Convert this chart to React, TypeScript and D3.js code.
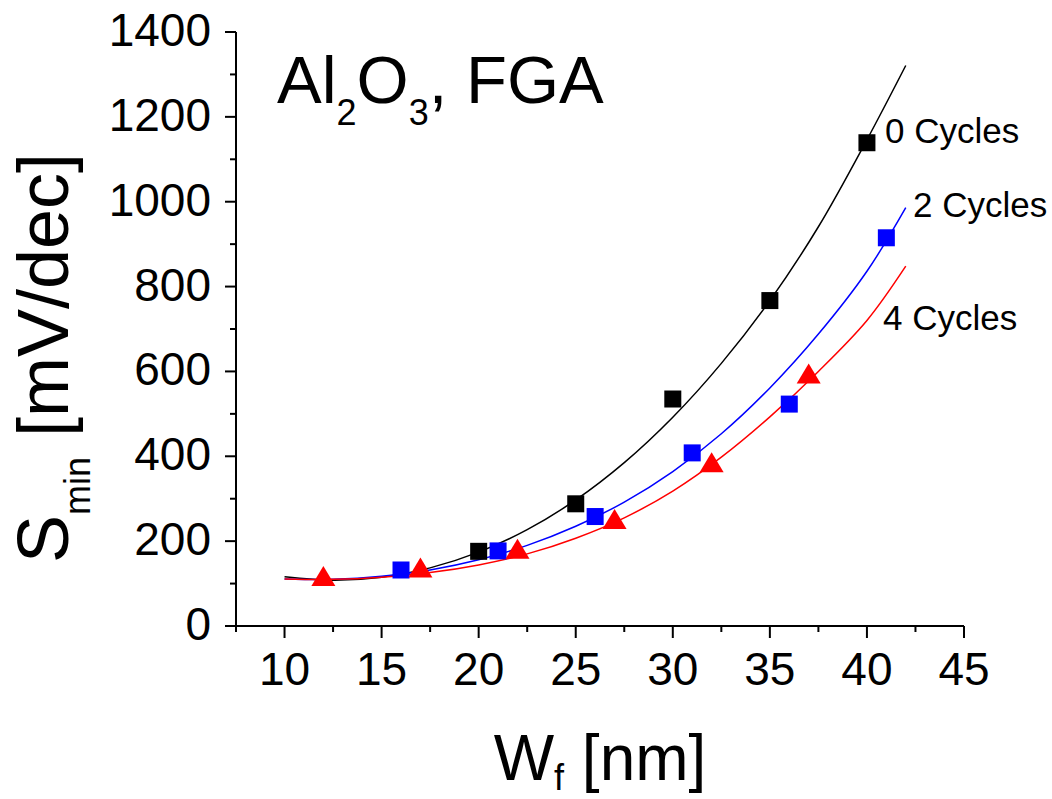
import React from "react";
import * as d3 from "d3";

// ---- data ----
const cycleLabels = ["0 Cycles", "2 Cycles", "4 Cycles"];
const seriesColors = ["#000000", "#0000ff", "#ff0000"];

const wf0 = [20, 25, 30, 35, 40];
const s0 = [176, 288, 535, 767, 1139];
const wf2 = [16, 21, 26, 31, 36, 41];
const s2 = [132, 177, 258, 408, 523, 915];
const wf4 = [12, 17, 22, 27, 32, 37];
const s4 = [118, 138, 182, 252, 386, 595];

// fitted curves
const fitX = [10, 12.5, 15, 17.5, 20, 22.5, 25, 27.5, 30, 32.5, 35, 37.5, 40, 42];
const fit0 = [116, 108, 115, 137, 174, 227, 297, 385, 492, 619, 767, 941, 1146, 1321];
const fit2 = [111, 110, 117, 132, 156, 190, 235, 292, 364, 453, 561, 688, 836, 986];
const fit4 = [111, 110, 115, 126, 144, 170, 207, 255, 318, 398, 493, 600, 720, 848];

const xTicks = [10, 15, 20, 25, 30, 35, 40, 45];
const xMinor = [7.5, 12.5, 17.5, 22.5, 27.5, 32.5, 37.5, 42.5];
const yTicks = [0, 200, 400, 600, 800, 1000, 1200, 1400];
const yMinor = [100, 300, 500, 700, 900, 1100, 1300];

const FONT = "'Liberation Sans', Arial, sans-serif";

export default function App() {
  const x = d3.scaleLinear().domain([7.5, 45]).range([236, 964]);
  const y = d3.scaleLinear().domain([0, 1400]).range([626, 32]);

  const line = d3
    .line<[number, number]>()
    .x((d) => x(d[0]))
    .y((d) => y(d[1]))
    .curve(d3.curveCatmullRom.alpha(0.5));

  const fits = [fit0, fit2, fit4];
  const sq = 17;
  const triW = 24;
  const triH = 20;

  const triPath = (cx: number, cy: number) =>
    `M${cx},${cy - triH / 2}L${cx + triW / 2},${cy + triH / 2}L${cx - triW / 2},${cy + triH / 2}Z`;

  const x0 = x.range()[0];
  const x1 = x.range()[1];
  const yb = y(0);
  const yt = y(1400);

  return (
    <svg
      width={1052}
      height={799}
      style={{ position: "absolute", left: 0, top: 0, background: "#fff" }}
      fontFamily={FONT}
    >
      <rect width={1052} height={799} fill="#fff" />
      {/* fit curves */}
      {fits.map((f, i) => (
        <path
          key={"fit" + i}
          d={line(fitX.map((v, j) => [v, f[j]] as [number, number])) || ""}
          fill="none"
          stroke={seriesColors[i]}
          strokeWidth={1.5}
        />
      ))}
      {/* markers */}
      {wf0.map((v, i) => (
        <rect key={"b" + i} x={x(v) - sq / 2} y={y(s0[i]) - sq / 2} width={sq} height={sq} fill={seriesColors[0]} />
      ))}
      {wf2.map((v, i) => (
        <rect key={"u" + i} x={x(v) - sq / 2} y={y(s2[i]) - sq / 2} width={sq} height={sq} fill={seriesColors[1]} />
      ))}
      {wf4.map((v, i) => (
        <path key={"r" + i} d={triPath(x(v), y(s4[i]))} fill={seriesColors[2]} />
      ))}

      {/* axes */}
      <line x1={x0} x2={x1} y1={yb} y2={yb} stroke="#000" strokeWidth={2} />
      <line x1={x0} x2={x0} y1={yb + 1} y2={yt} stroke="#000" strokeWidth={2} />
      {xTicks.map((t) => (
        <g key={"xt" + t}>
          <line x1={x(t)} x2={x(t)} y1={yb} y2={yb + 12} stroke="#000" strokeWidth={2} />
          <text x={x(t)} y={yb + 59} fontSize={46} textAnchor="middle">
            {t}
          </text>
        </g>
      ))}
      {xMinor.map((t) => (
        <line key={"xm" + t} x1={x(t)} x2={x(t)} y1={yb} y2={yb + 6} stroke="#000" strokeWidth={2} />
      ))}
      {yTicks.map((t) => (
        <g key={"yt" + t}>
          <line x1={x0} x2={x0 - 11} y1={y(t)} y2={y(t)} stroke="#000" strokeWidth={2} />
          <text x={211} y={y(t) + 14} fontSize={46} textAnchor="end">
            {t}
          </text>
        </g>
      ))}
      {yMinor.map((t) => (
        <line key={"ym" + t} x1={x0} x2={x0 - 6} y1={y(t)} y2={y(t)} stroke="#000" strokeWidth={2} />
      ))}

      {/* axis titles */}
      <text x={600} y={780} fontSize={64} textAnchor="middle">
        W<tspan fontSize={36} dy={10}>f</tspan>
        <tspan dy={-10}> [nm]</tspan>
      </text>
      <text transform="translate(68,358) rotate(-90)" fontSize={72} textAnchor="middle">
        S<tspan fontSize={36} dy={22}>min</tspan>
        <tspan dy={-22}> [mV/dec]</tspan>
      </text>

      {/* title */}
      <text x={277} y={103} fontSize={67}>
        Al<tspan fontSize={36} dy={22}>2</tspan>
        <tspan dy={-22}>O</tspan>
        <tspan fontSize={36} dy={22}>3</tspan>
        <tspan dy={-22}>, FGA</tspan>
      </text>

      {/* series labels */}
      <text x={885} y={143} fontSize={35}>{cycleLabels[0]}</text>
      <text x={913} y={217} fontSize={35}>{cycleLabels[1]}</text>
      <text x={883} y={330} fontSize={35}>{cycleLabels[2]}</text>
    </svg>
  );
}
